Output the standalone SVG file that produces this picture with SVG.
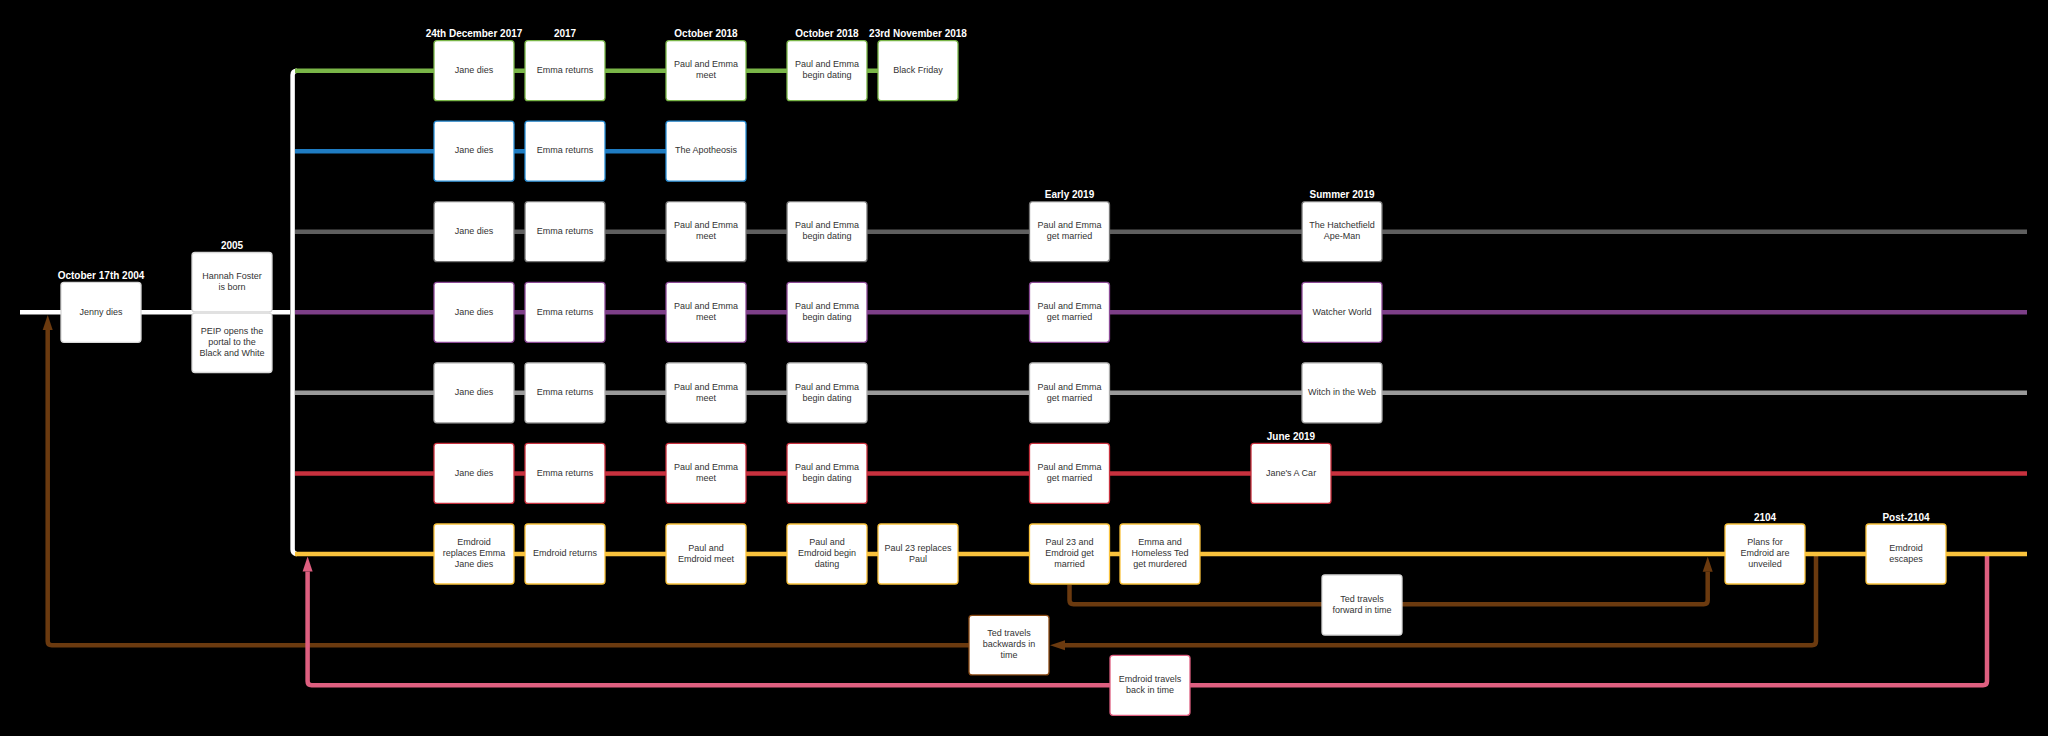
<svg xmlns="http://www.w3.org/2000/svg" width="2048" height="736" viewBox="0 0 2048 736">
<style>
.bg{fill:#000}
.box{fill:#fff;stroke-width:1.3}
.t{font-family:"Liberation Sans",Arial,sans-serif;font-size:9px;fill:#333;text-anchor:middle}
.lbl{font-family:"Liberation Sans",Arial,sans-serif;font-size:10px;font-weight:bold;fill:#fff;text-anchor:middle}
.ln{fill:none;stroke-width:4.5;stroke-linejoin:round}
.wh{stroke:#fff}.gr{stroke:#7ab648}.bl{stroke:#1f7cc2}.dg{stroke:#5f5f5f}.pu{stroke:#7d3f88}.lg{stroke:#9a9a9a}.rd{stroke:#c8313e}.ye{stroke:#f9c23c}.br{stroke:#6b3a0f}.pk{stroke:#de5f80}
.bw{stroke:#d8d8d8}.bgr{stroke:#7ab648}.bbl{stroke:#2a8fd6}.bdg{stroke:#777}.bpu{stroke:#8b4a96}.blg{stroke:#aaa}.brd{stroke:#c8313e}.bye{stroke:#f9c23c}.bbr{stroke:#8a4a14}.bpk{stroke:#de5f80}
</style>
<defs>
<marker id="ab" markerUnits="userSpaceOnUse" markerWidth="15" markerHeight="10" viewBox="0 0 15 10" refX="0" refY="5" orient="auto" overflow="visible"><path d="M0,0 L15,5 L0,10 z" fill="#6b3a0f"/></marker>
<marker id="ap" markerUnits="userSpaceOnUse" markerWidth="15" markerHeight="10" viewBox="0 0 15 10" refX="0" refY="5" orient="auto" overflow="visible"><path d="M0,0 L15,5 L0,10 z" fill="#de5f80"/></marker>
</defs>
<rect class="bg" x="0" y="0" width="2048" height="736"/>

<g id="connectors">
<path class="ln br" d="M1816,556 V641.3 Q1816,645.3 1812,645.3 H1065" marker-end="url(#ab)"/>
<path class="ln br" d="M969,645.3 H51.7 Q47.7,645.3 47.7,641.3 V330" marker-end="url(#ab)"/>
<path class="ln br" d="M1069.5,585 V600.3 Q1069.5,604.3 1073.5,604.3 H1322"/>
<path class="ln br" d="M1402,604.3 H1703.7 Q1707.7,604.3 1707.7,600.3 V571.7" marker-end="url(#ab)"/>
<path class="ln pk" d="M1987,556 V681.3 Q1987,685.3 1983,685.3 H311.6 Q307.6,685.3 307.6,681.3 V571.5" marker-end="url(#ap)"/>
<path class="ln wh" d="M20,312.3 H290"/>
<path class="ln wh" d="M297,70.7 Q292.6,70.7 292.6,75 V549.6 Q292.6,554 297,554"/>
<path class="ln gr" d="M295,70.7 H958"/>
<path class="ln bl" d="M295,151.2 H746"/>
<path class="ln dg" d="M295,231.7 H2027"/>
<path class="ln pu" d="M295,312.3 H2027"/>
<path class="ln lg" d="M295,392.8 H2027"/>
<path class="ln rd" d="M295,473.4 H2027"/>
<path class="ln ye" d="M295,554 H2027"/>
</g>

<g id="jenny"><rect class="box bw" x="61" y="282.3" width="80" height="60" rx="3"/><text class="lbl" x="101" y="279">October 17th 2004</text><text class="t" x="101" y="314.5">Jenny dies</text></g>
<g id="hannah"><rect class="box bw" x="192" y="252.5" width="80" height="59.4" rx="3"/><text class="lbl" x="232" y="249">2005</text><text class="t" x="232" y="279.2">Hannah Foster</text><text class="t" x="232" y="290.2">is born</text></g>
<g id="peip"><rect class="box bw" x="192" y="313.1" width="80" height="59.4" rx="3"/><text class="t" x="232" y="333.9">PEIP opens the</text><text class="t" x="232" y="344.9">portal to the</text><text class="t" x="232" y="355.9">Black and White</text></g>

<g id="r0a"><rect class="box bgr" x="434" y="40.7" width="80" height="60" rx="3"/><text class="lbl" x="474" y="37.2">24th December 2017</text><text class="t" x="474" y="72.9">Jane dies</text></g>
<g id="r0b"><rect class="box bgr" x="525" y="40.7" width="80" height="60" rx="3"/><text class="lbl" x="565" y="37.2">2017</text><text class="t" x="565" y="72.9">Emma returns</text></g>
<g id="r0c"><rect class="box bgr" x="666" y="40.7" width="80" height="60" rx="3"/><text class="lbl" x="706" y="37.2">October 2018</text><text class="t" x="706" y="67.4">Paul and Emma</text><text class="t" x="706" y="78.4">meet</text></g>
<g id="r0d"><rect class="box bgr" x="787" y="40.7" width="80" height="60" rx="3"/><text class="lbl" x="827" y="37.2">October 2018</text><text class="t" x="827" y="67.4">Paul and Emma</text><text class="t" x="827" y="78.4">begin dating</text></g>
<g id="r0e"><rect class="box bgr" x="878" y="40.7" width="80" height="60" rx="3"/><text class="lbl" x="918" y="37.2">23rd November 2018</text><text class="t" x="918" y="72.9">Black Friday</text></g>

<g id="r1a"><rect class="box bbl" x="434" y="121.2" width="80" height="60" rx="3"/><text class="t" x="474" y="153.4">Jane dies</text></g>
<g id="r1b"><rect class="box bbl" x="525" y="121.2" width="80" height="60" rx="3"/><text class="t" x="565" y="153.4">Emma returns</text></g>
<g id="r1c"><rect class="box bbl" x="666" y="121.2" width="80" height="60" rx="3"/><text class="t" x="706" y="153.4">The Apotheosis</text></g>

<g id="r2a"><rect class="box bdg" x="434" y="201.7" width="80" height="60" rx="3"/><text class="t" x="474" y="233.9">Jane dies</text></g>
<g id="r2b"><rect class="box bdg" x="525" y="201.7" width="80" height="60" rx="3"/><text class="t" x="565" y="233.9">Emma returns</text></g>
<g id="r2c"><rect class="box bdg" x="666" y="201.7" width="80" height="60" rx="3"/><text class="t" x="706" y="228.4">Paul and Emma</text><text class="t" x="706" y="239.4">meet</text></g>
<g id="r2d"><rect class="box bdg" x="787" y="201.7" width="80" height="60" rx="3"/><text class="t" x="827" y="228.4">Paul and Emma</text><text class="t" x="827" y="239.4">begin dating</text></g>
<g id="r2f"><rect class="box bdg" x="1029.5" y="201.7" width="80" height="60" rx="3"/><text class="lbl" x="1069.5" y="198.2">Early 2019</text><text class="t" x="1069.5" y="228.4">Paul and Emma</text><text class="t" x="1069.5" y="239.4">get married</text></g>
<g id="r2i"><rect class="box bdg" x="1302" y="201.7" width="80" height="60" rx="3"/><text class="lbl" x="1342" y="198.2">Summer 2019</text><text class="t" x="1342" y="228.4">The Hatchetfield</text><text class="t" x="1342" y="239.4">Ape-Man</text></g>

<g id="r3a"><rect class="box bpu" x="434" y="282.3" width="80" height="60" rx="3"/><text class="t" x="474" y="314.5">Jane dies</text></g>
<g id="r3b"><rect class="box bpu" x="525" y="282.3" width="80" height="60" rx="3"/><text class="t" x="565" y="314.5">Emma returns</text></g>
<g id="r3c"><rect class="box bpu" x="666" y="282.3" width="80" height="60" rx="3"/><text class="t" x="706" y="309">Paul and Emma</text><text class="t" x="706" y="320">meet</text></g>
<g id="r3d"><rect class="box bpu" x="787" y="282.3" width="80" height="60" rx="3"/><text class="t" x="827" y="309">Paul and Emma</text><text class="t" x="827" y="320">begin dating</text></g>
<g id="r3f"><rect class="box bpu" x="1029.5" y="282.3" width="80" height="60" rx="3"/><text class="t" x="1069.5" y="309">Paul and Emma</text><text class="t" x="1069.5" y="320">get married</text></g>
<g id="r3i"><rect class="box bpu" x="1302" y="282.3" width="80" height="60" rx="3"/><text class="t" x="1342" y="314.5">Watcher World</text></g>

<g id="r4a"><rect class="box blg" x="434" y="362.8" width="80" height="60" rx="3"/><text class="t" x="474" y="395">Jane dies</text></g>
<g id="r4b"><rect class="box blg" x="525" y="362.8" width="80" height="60" rx="3"/><text class="t" x="565" y="395">Emma returns</text></g>
<g id="r4c"><rect class="box blg" x="666" y="362.8" width="80" height="60" rx="3"/><text class="t" x="706" y="389.5">Paul and Emma</text><text class="t" x="706" y="400.5">meet</text></g>
<g id="r4d"><rect class="box blg" x="787" y="362.8" width="80" height="60" rx="3"/><text class="t" x="827" y="389.5">Paul and Emma</text><text class="t" x="827" y="400.5">begin dating</text></g>
<g id="r4f"><rect class="box blg" x="1029.5" y="362.8" width="80" height="60" rx="3"/><text class="t" x="1069.5" y="389.5">Paul and Emma</text><text class="t" x="1069.5" y="400.5">get married</text></g>
<g id="r4i"><rect class="box blg" x="1302" y="362.8" width="80" height="60" rx="3"/><text class="t" x="1342" y="395">Witch in the Web</text></g>

<g id="r5a"><rect class="box brd" x="434" y="443.4" width="80" height="60" rx="3"/><text class="t" x="474" y="475.6">Jane dies</text></g>
<g id="r5b"><rect class="box brd" x="525" y="443.4" width="80" height="60" rx="3"/><text class="t" x="565" y="475.6">Emma returns</text></g>
<g id="r5c"><rect class="box brd" x="666" y="443.4" width="80" height="60" rx="3"/><text class="t" x="706" y="470.1">Paul and Emma</text><text class="t" x="706" y="481.1">meet</text></g>
<g id="r5d"><rect class="box brd" x="787" y="443.4" width="80" height="60" rx="3"/><text class="t" x="827" y="470.1">Paul and Emma</text><text class="t" x="827" y="481.1">begin dating</text></g>
<g id="r5f"><rect class="box brd" x="1029.5" y="443.4" width="80" height="60" rx="3"/><text class="t" x="1069.5" y="470.1">Paul and Emma</text><text class="t" x="1069.5" y="481.1">get married</text></g>
<g id="r5h"><rect class="box brd" x="1251" y="443.4" width="80" height="60" rx="3"/><text class="lbl" x="1291" y="440">June 2019</text><text class="t" x="1291" y="475.6">Jane's A Car</text></g>

<g id="r6a"><rect class="box bye" x="434" y="524" width="80" height="60" rx="3"/><text class="t" x="474" y="545.2">Emdroid</text><text class="t" x="474" y="556.2">replaces Emma</text><text class="t" x="474" y="567.2">Jane dies</text></g>
<g id="r6b"><rect class="box bye" x="525" y="524" width="80" height="60" rx="3"/><text class="t" x="565" y="556.2">Emdroid returns</text></g>
<g id="r6c"><rect class="box bye" x="666" y="524" width="80" height="60" rx="3"/><text class="t" x="706" y="550.7">Paul and</text><text class="t" x="706" y="561.7">Emdroid meet</text></g>
<g id="r6d"><rect class="box bye" x="787" y="524" width="80" height="60" rx="3"/><text class="t" x="827" y="545.2">Paul and</text><text class="t" x="827" y="556.2">Emdroid begin</text><text class="t" x="827" y="567.2">dating</text></g>
<g id="r6e"><rect class="box bye" x="878" y="524" width="80" height="60" rx="3"/><text class="t" x="918" y="550.7">Paul 23 replaces</text><text class="t" x="918" y="561.7">Paul</text></g>
<g id="r6f"><rect class="box bye" x="1029.5" y="524" width="80" height="60" rx="3"/><text class="t" x="1069.5" y="545.2">Paul 23 and</text><text class="t" x="1069.5" y="556.2">Emdroid get</text><text class="t" x="1069.5" y="567.2">married</text></g>
<g id="r6g"><rect class="box bye" x="1120" y="524" width="80" height="60" rx="3"/><text class="t" x="1160" y="545.2">Emma and</text><text class="t" x="1160" y="556.2">Homeless Ted</text><text class="t" x="1160" y="567.2">get murdered</text></g>
<g id="plans"><rect class="box bye" x="1725" y="524" width="80" height="60" rx="3"/><text class="lbl" x="1765" y="520.5">2104</text><text class="t" x="1765" y="545.2">Plans for</text><text class="t" x="1765" y="556.2">Emdroid are</text><text class="t" x="1765" y="567.2">unveiled</text></g>
<g id="escapes"><rect class="box bye" x="1866" y="524" width="80" height="60" rx="3"/><text class="lbl" x="1906" y="520.5">Post-2104</text><text class="t" x="1906" y="550.7">Emdroid</text><text class="t" x="1906" y="561.7">escapes</text></g>

<g id="tedforward"><rect class="box bw" x="1322" y="575" width="80" height="60" rx="3"/><text class="t" x="1362" y="601.7">Ted travels</text><text class="t" x="1362" y="612.7">forward in time</text></g>
<g id="tedback"><rect class="box bbr" x="969" y="615.3" width="80" height="59.6" rx="3"/><text class="t" x="1009" y="636.4">Ted travels</text><text class="t" x="1009" y="647.4">backwards in</text><text class="t" x="1009" y="658.4">time</text></g>
<g id="emdroidback"><rect class="box bpk" x="1110" y="655.3" width="80" height="60" rx="3"/><text class="t" x="1150" y="682">Emdroid travels</text><text class="t" x="1150" y="693">back in time</text></g>
</svg>
